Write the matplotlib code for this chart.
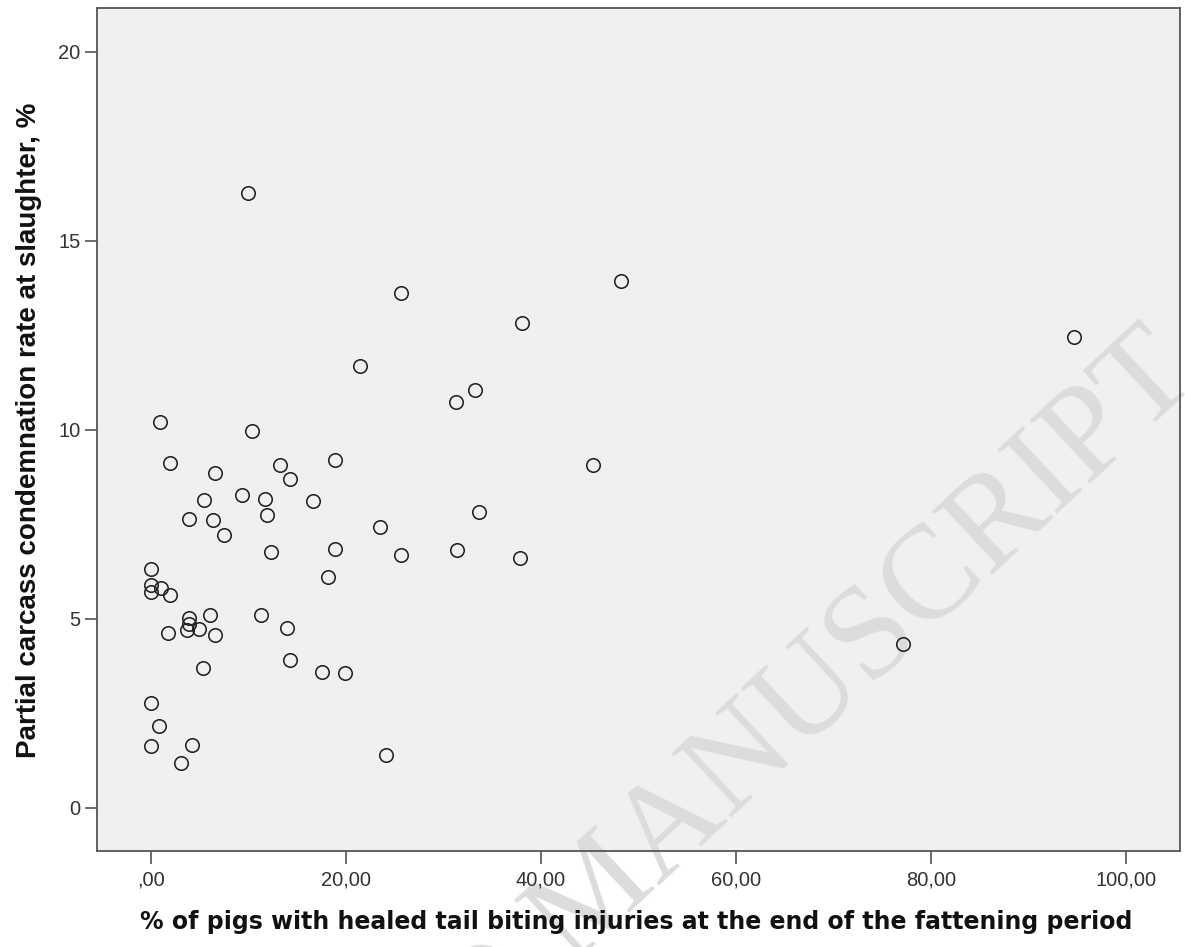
import numpy as np
import matplotlib.pyplot as plt

# % of pigs with healed tail biting injuries (x) vs partial carcass condemnation rate (y)
tail_injuries = [9.95, 25.65, 48.16, 38.07, 94.64, 21.46, 33.29, 31.27, 0.95, 10.39,
                 1.95, 6.63, 13.30, 14.25, 18.94, 5.43, 9.36, 11.76, 16.64, 3.97,
                 6.39, 11.92, 23.48, 7.52, 12.33, 18.87, 18.15, 0.0, 0.0, 0.0,
                 1.10, 1.95, 3.90, 3.90, 3.72, 4.95, 6.08, 6.56, 1.81, 11.31,
                 13.98, 5.33, 14.25, 17.53, 19.96, 0.0, 0.85, 0.0, 4.23, 3.08,
                 24.17, 33.67, 25.70, 31.41, 37.90, 45.29, 77.10]
condemnation = [16.27, 13.63, 13.94, 12.82, 12.45, 11.69, 11.06, 10.75, 10.20, 9.98,
                9.12, 8.87, 9.07, 8.70, 9.19, 8.14, 8.29, 8.17, 8.12, 7.65,
                7.62, 7.74, 7.42, 7.22, 6.77, 6.86, 6.11, 6.33, 5.90, 5.70,
                5.81, 5.63, 5.02, 4.87, 4.71, 4.74, 5.09, 4.58, 4.62, 5.09,
                4.77, 3.70, 3.91, 3.60, 3.57, 2.77, 2.17, 1.64, 1.67, 1.18,
                1.39, 7.82, 6.69, 6.81, 6.61, 9.07, 4.34]

x_ticks = [0, 20, 40, 60, 80, 100]
x_tick_labels = [',00', '20,00', '40,00', '60,00', '80,00', '100,00']
y_ticks = [0, 5, 10, 15, 20]

W, H = 1185, 947
fig = plt.figure(figsize=(W / 100, H / 100), dpi=100)
fig.patch.set_facecolor('white')

# axes box in pixels: left 97, right 1180, top 8, bottom 851
ax = fig.add_axes([97 / W, 1 - 851 / H, (1180 - 97) / W, (851 - 8) / H])
ax.set_facecolor('#f0f0f0')

ax.plot(tail_injuries, condemnation, linestyle='none', marker='o',
        markersize=9.7, markerfacecolor='none', markeredgecolor='#222222',
        markeredgewidth=1.15, zorder=3)

ax.set_xlim(-5.5, 105.5)
ax.set_ylim(-1.14, 21.16)

ax.set_xticks(x_ticks)
ax.set_xticklabels(x_tick_labels)
ax.set_yticks(y_ticks)

for s in ax.spines.values():
    s.set_color('#555555')
    s.set_linewidth(1.3)

ax.tick_params(axis='both', direction='out', length=9, width=1.1,
               color='#444444', labelsize=14.5, labelcolor='#333333', pad=3)
ax.tick_params(axis='x', pad=5)
for lbl in ax.get_xticklabels() + ax.get_yticklabels():
    lbl.set_family('Liberation Sans')

# faint journal watermark, under the points
ax.text(1201 / W, 1 - 380 / H, 'ACCEPTED MANUSCRIPT', transform=fig.transFigure,
        ha='right', va='baseline', rotation=43, rotation_mode='anchor',
        fontsize=96, family='Liberation Serif', color='#dcdcdc',
        zorder=1, clip_on=False)

fig.text(636 / W, 1 - 922 / H,
         '% of pigs with healed tail biting injuries at the end of the fattening period',
         ha='center', va='center', fontsize=17, fontweight='bold',
         family='DejaVu Sans', color='#111111')
fig.text(29 / W, 1 - 430 / H,
         'Partial carcass condemnation rate at slaughter, %',
         ha='center', va='center', rotation=90, fontsize=20, fontweight='bold',
         family='Liberation Sans', color='#111111')

plt.savefig('out.png', dpi=100)
